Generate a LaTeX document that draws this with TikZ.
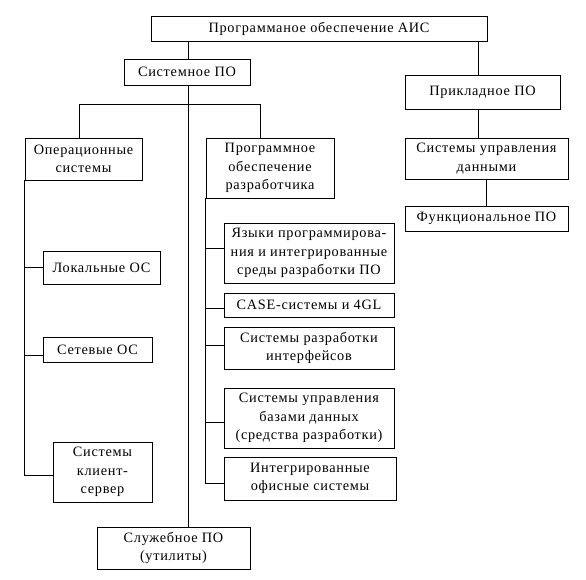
\documentclass[tikz,border=0pt]{standalone}
\usepackage{fontspec}
\setmainfont{Liberation Serif}[LetterSpace=5]
\begin{document}
\begin{tikzpicture}[x=1pt,y=-1pt,line width=0.8pt,
  box/.style={draw, fill=white, inner sep=0pt, align=center,
    font=\fontsize{14.3}{18.5}\selectfont},
  conn/.style={draw, line width=0.8pt}]
\useasboundingbox[fill=white] (0,0) rectangle (586,580);
% nodes
\node[box, minimum width=336pt, minimum height=25pt] (top) at (319,28.5) {Программаное обеспечение АИС};
\node[box, minimum width=126pt, minimum height=26pt] (sys) at (187,72) {Системное ПО};
\node[box, minimum width=155pt, minimum height=34pt] (app) at (482.5,92) {Прикладное ПО};
\node[box, minimum width=117pt, minimum height=42pt] (os) at (83.5,159) {Операционные\\системы};
\node[box, minimum width=128pt, minimum height=60pt] (dev) at (270,168) {Программное\\обеспечение\\разработчика};
\node[box, minimum width=117pt, minimum height=33pt] (local) at (101.5,267.5) {Локальные ОС};
\node[box, minimum width=109pt, minimum height=25pt] (net) at (97.5,349.5) {Сетевые ОС};
\node[box, minimum width=99pt, minimum height=60pt] (cs) at (102.5,472) {Системы\\клиент-\\сервер};
\node[box, minimum width=170pt, minimum height=60pt] (lang) at (309,253) {Языки программирова-\\ния и интегрированные\\среды разработки ПО};
\node[box, minimum width=170pt, minimum height=24pt] (case) at (309,305) {CASE-системы и 4GL};
\node[box, minimum width=170pt, minimum height=42pt] (intf) at (309,348) {Системы разработки\\интерфейсов};
\node[box, minimum width=170pt, minimum height=60pt] (dbms) at (309,418) {Системы управления\\базами данных\\(средства разработки)};
\node[box, minimum width=172pt, minimum height=43pt] (office) at (310,478.5) {Интегрированные\\офисные системы};
\node[box, minimum width=153pt, minimum height=42pt] (util) at (173.5,548) {Служебное ПО\\(утилиты)};
\node[box, minimum width=163pt, minimum height=41pt] (sud) at (486.5,158.5) {Системы управления\\данными};
\node[box, minimum width=163pt, minimum height=25pt] (func) at (486.5,218.5) {Функциональное ПО};
% helper coordinates
\coordinate (sx) at (188,0);
\coordinate (ax) at (478,0);
\coordinate (fl) at (79,104);
\coordinate (fr) at (260,104);
\coordinate (bcs) at ([yshift=-3pt]cs.west);
\coordinate (bnet) at ([yshift=-5.5pt]net.west);
\coordinate (blang) at ([yshift=5pt]lang.west);
\coordinate (bcase) at ([yshift=-3pt]case.west);
\coordinate (bintf) at ([yshift=3pt]intf.west);
\coordinate (bdbms) at ([yshift=-4pt]dbms.west);
\coordinate (boff) at ([yshift=-4.5pt]office.west);
% connectors
\draw[conn] (top.south -| sx) -- (sys.north -| sx);
\draw[conn] (sys.south -| sx) -- (util.north -| sx);
\draw[conn] (top.south -| ax) -- (app.north -| ax);
\draw[conn] (app.south -| ax) -- (sud.north -| ax);
\draw[conn] (sud.south) -- (func.north);
\draw[conn] (os.north -| fl) -- (fl) -- (fr) -- (dev.north -| fr);
% OS branches
\draw[conn] (os.south west) -- (os.south west |- bcs) -- (bcs);
\draw[conn] (os.south west |- local.west) -- (local.west);
\draw[conn] (os.south west |- bnet) -- (bnet);
% dev branches
\draw[conn] (dev.south west) -- (dev.south west |- boff) -- (boff);
\draw[conn] (dev.south west |- blang) -- (blang);
\draw[conn] (dev.south west |- bcase) -- (bcase);
\draw[conn] (dev.south west |- bintf) -- (bintf);
\draw[conn] (dev.south west |- bdbms) -- (bdbms);
\end{tikzpicture}
\end{document}
